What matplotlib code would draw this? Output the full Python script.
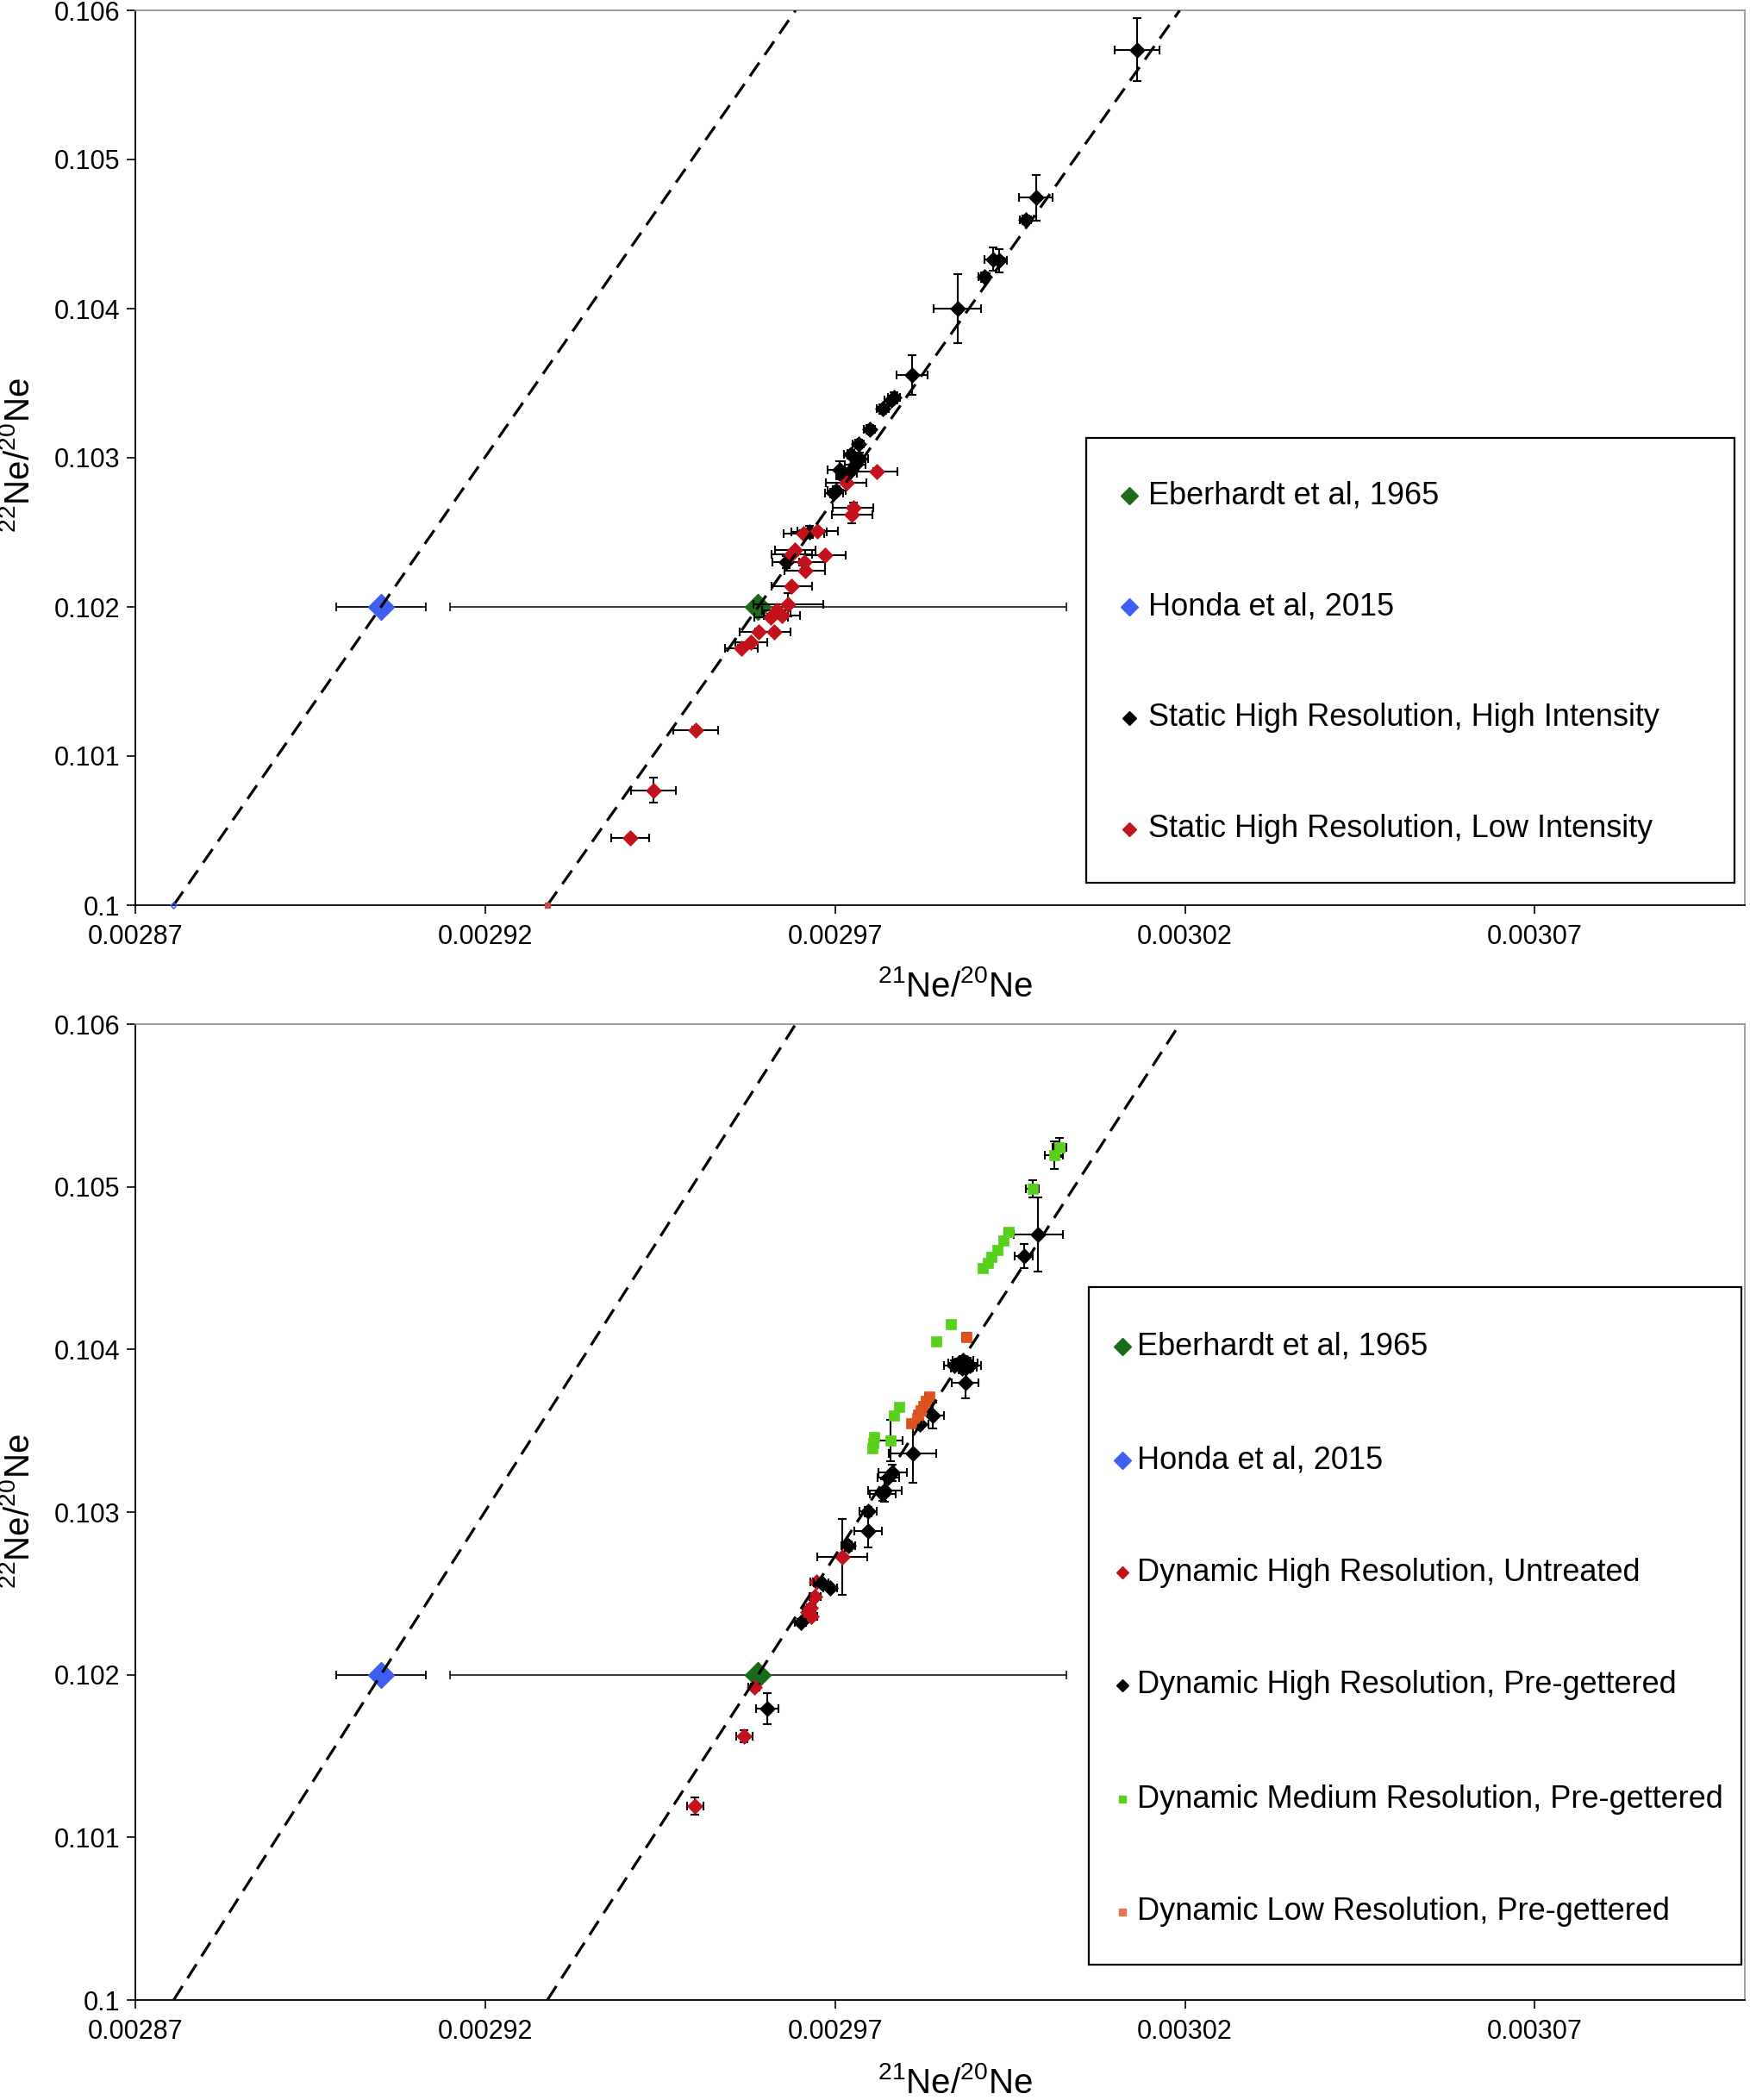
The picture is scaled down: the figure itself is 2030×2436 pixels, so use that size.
import matplotlib
matplotlib.use('Agg')
import matplotlib.pyplot as plt
from matplotlib.patches import Rectangle
import numpy as np

plt.rcParams['font.family'] = ['Liberation Sans', 'DejaVu Sans']
plt.rcParams['mathtext.fontset'] = 'custom'
plt.rcParams['mathtext.rm'] = 'Liberation Sans'

# axis ticks
xticks = [0.00287, 0.00292, 0.00297, 0.00302, 0.00307]
xtick_labels = ['0.00287', '0.00292', '0.00297', '0.00302', '0.00307']
yticks = [0.100, 0.101, 0.102, 0.103, 0.104, 0.105, 0.106]
ytick_labels = ['0.1', '0.101', '0.102', '0.103', '0.104', '0.105', '0.106']

# reference values (21Ne/20Ne, 22Ne/20Ne)
eb_x, eb_y, eb_xerr = 0.0029590, 0.102, 4.4e-5
honda_x, honda_y, honda_xerr = 0.0029051, 0.102, 6.4e-6
# slopes of the two dashed fractionation lines
honda_slope = 67.5
eb_slope = 66.4

# ---- top panel: static high resolution ----
shi_x = [0.0030132, 0.0029987, 0.0029972, 0.0029926, 0.0029934, 0.0029913, 0.0029875,
         0.0029810, 0.0029784, 0.0029780, 0.0029768, 0.0029749, 0.0029733, 0.0029723,
         0.0029735, 0.0029729, 0.0029706, 0.0029719, 0.0029712, 0.0029702, 0.0029698,
         0.0029663, 0.0029630]
shi_y = [0.105736, 0.104743, 0.104595, 0.104331, 0.104321, 0.104212, 0.104000,
         0.103555, 0.103407, 0.103388, 0.103327, 0.103189, 0.103094, 0.103023,
         0.102994, 0.102955, 0.102917, 0.102898, 0.102879, 0.102782, 0.102762,
         0.102503, 0.102301]
shi_xerr = [3.2, 2.4, 0.8, 1.2, 1.2, 0.8, 3.4, 2.2, 0.9, 0.9, 0.9, 0.8, 0.8, 1.0,
            1.2, 1.5, 1.7, 1.2, 1.0, 1.3, 1.3, 2.5, 1.9]
shi_yerr = [21, 15.3, 3, 7.7, 7.7, 3, 23, 13.5, 3, 3, 3, 3, 3, 3,
            4, 4, 6, 3, 3, 3, 3, 4, 4]

sli_x = [0.0029760, 0.0029716, 0.0029726, 0.0029724, 0.0029675, 0.0029655, 0.0029643,
         0.0029638, 0.0029686, 0.0029656, 0.0029657, 0.0029638, 0.0029633, 0.0029616,
         0.0029608, 0.0029624, 0.0029591, 0.0029613, 0.0029580, 0.0029566, 0.0029501,
         0.0029440, 0.0029407]
sli_y = [0.102908, 0.102831, 0.102667, 0.102619, 0.102507, 0.102493, 0.102379,
         0.102350, 0.102344, 0.102298, 0.102244, 0.102137, 0.102016, 0.101974,
         0.101932, 0.101940, 0.101834, 0.101830, 0.101762, 0.101724, 0.101175,
         0.100771, 0.100448]
sli_xerr = [2.9, 2.9, 2.9, 2.9, 2.9, 2.9, 2.9, 2.9, 2.9, 2.9, 2.9, 2.9, 5.0, 2.0,
            2.4, 2.6, 2.7, 2.3, 2.3, 2.3, 3.2, 3.2, 2.7]
sli_yerr = [2, 2, 3, 5.8, 2, 2, 2, 2, 2, 2, 2, 2, 7.7, 2,
            2, 2, 2, 2, 2, 2, 2, 8.5, 2]

# ---- bottom panel: dynamic ----
dun_x = [0.0029710, 0.0029673, 0.0029671, 0.0029664, 0.0029661, 0.0029666, 0.0029584,
         0.0029570, 0.0029500]
dun_y = [0.102726, 0.102572, 0.102480, 0.102412, 0.102386, 0.102360, 0.101926,
         0.101622, 0.101192]
dun_xerr = [3.6, 0.8, 0.8, 0.8, 0.8, 0.8, 0.8, 1.15, 1.15]
dun_yerr = [23.3, 2, 2, 2, 2, 2, 2, 3.5, 5.3]

dpg_x = [0.0029990, 0.0029970, 0.0029870, 0.0029877, 0.0029883, 0.0029889, 0.0029893,
         0.0029881, 0.0029887, 0.0029886, 0.0029839, 0.0029821, 0.0029811, 0.0029782,
         0.0029776, 0.0029771, 0.0029768, 0.0029747, 0.0029747, 0.0029719, 0.0029680,
         0.0029693, 0.0029651, 0.0029603]
dpg_y = [0.104707, 0.104574, 0.103901, 0.103915, 0.103932, 0.103918, 0.103901,
         0.103883, 0.103888, 0.103795, 0.103594, 0.103543, 0.103363, 0.103243,
         0.103214, 0.103134, 0.103111, 0.103004, 0.102881, 0.102792, 0.102567,
         0.102532, 0.102321, 0.101793]
dpg_xerr = [3.5, 1.3, 1.5, 1.5, 1.5, 1.5, 1.5, 1.5, 1.5, 1.9, 1.6, 1.2, 3.4, 2.0,
            1.5, 2.4, 1.8, 1.2, 2.0, 1.0, 1.0, 1.0, 0.8, 1.6]
dpg_yerr = [23, 7.3, 3, 3, 3, 3, 3, 3, 3, 9.5, 7.8, 3, 18.5, 5,
            3, 7, 4, 3, 10, 3, 2, 2, 2, 9.5]

dmr_x = [0.0030021, 0.0030013, 0.0029982, 0.0029948, 0.0029941, 0.0029932, 0.0029923,
         0.0029918, 0.0029911, 0.0029866, 0.0029845, 0.0029791, 0.0029784, 0.0029779,
         0.0029756, 0.0029754, 0.0029753]
dmr_y = [0.105240, 0.105193, 0.104988, 0.104723, 0.104670, 0.104613, 0.104569,
         0.104533, 0.104499, 0.104156, 0.104048, 0.103649, 0.103593, 0.103440,
         0.103459, 0.103424, 0.103393]
dmr_xerr = [1.0, 1.3, 0.95, 0.6, 0.5, 0.5, 0.5, 0.5, 0.5, 0.5, 0.6, 0.5, 0.5, 1.77,
            0.5, 0.5, 0.5]
dmr_yerr = [5.8, 8.5, 5.5, 1.5, 1.5, 1.5, 1.5, 1.5, 1.5, 1.5, 2, 1.5, 1.5, 12.7,
            1.5, 1.5, 1.5]

dlr_x = [0.0029888, 0.0029834, 0.0029830, 0.0029826, 0.0029822, 0.0029819, 0.0029817,
         0.0029809]
dlr_y = [0.104077, 0.103712, 0.103683, 0.103654, 0.103627, 0.103601, 0.103580, 0.103548]
dlr_xerr = [0.6, 0.5, 0.5, 0.5, 0.5, 0.5, 0.5, 0.5]
dlr_yerr = [2.5, 1.5, 1.5, 1.5, 1.5, 1.5, 1.5, 1.5]

GREEN = '#1a6b1a'
BLUE = '#3f5ff2'
BLACK = '#000000'
RED = '#c4121c'
LGREEN = '#58d11d'
ORANGE = '#de521e'

fig = plt.figure(figsize=(20.31, 24.36), dpi=100)
ax1 = fig.add_axes([157 / 2031, 1 - 1050 / 2436, 1867 / 2031, 1038 / 2436])
ax2 = fig.add_axes([157 / 2031, 1 - 2320 / 2436, 1867 / 2031, 1132 / 2436])


def series(ax, x, y, xe, ye, color, marker, ms, z):
    x = np.array(x); y = np.array(y)
    ax.errorbar(x, y, xerr=np.array(xe) * 1e-6, yerr=np.array(ye) * 1e-5, fmt='none',
                ecolor='black', elinewidth=1.5, capsize=3.8, capthick=1.5, zorder=z)
    ax.plot(x, y, ls='none', marker=marker, ms=ms, color=color, mec=color, mew=0.5,
            zorder=z + 0.1)


def setup(ax):
    ax.set_xlim(0.00287, 0.0031)
    ax.set_ylim(0.1, 0.106)
    ax.set_xticks(xticks)
    ax.set_xticklabels(xtick_labels)
    ax.set_yticks(yticks)
    ax.set_yticklabels(ytick_labels)
    ax.tick_params(direction='out', length=7, width=1.2, labelsize=22, colors='black')
    ax.tick_params(axis='x', pad=9)
    ax.tick_params(axis='y', pad=6)
    for s in ['left', 'bottom']:
        ax.spines[s].set_color('black')
        ax.spines[s].set_linewidth(1.3)
    for s in ['top', 'right']:
        ax.spines[s].set_color('#8a9a9a')
        ax.spines[s].set_linewidth(1.3)
    ax.set_xlabel(r'$\mathregular{^{21}Ne/^{20}Ne}$', fontsize=29)
    ax.set_ylabel(r'$\mathregular{^{22}Ne/^{20}Ne}$', fontsize=29)
    ax.xaxis.label.set_va('center')
    ax.yaxis.label.set_va('center')


def frac_lines(ax):
    ys = np.array([0.1, 0.106])
    out = []
    for x0, y0, k in [(honda_x, honda_y, honda_slope), (eb_x, eb_y, eb_slope)]:
        xs = x0 + (ys - y0) / k
        ax.plot(xs, ys, color='black', lw=2.3, ls=(0, (6.0, 3.4)), zorder=20)
        out.append((xs, ys))
    return out


def refs(ax):
    ax.errorbar([eb_x], [eb_y], xerr=[eb_xerr], fmt='none', ecolor='black',
                elinewidth=1.1, capsize=3.6, capthick=1.1, zorder=3)
    ax.plot([eb_x], [eb_y], ls='none', marker='D', ms=15, color=GREEN, zorder=3.1)
    ax.errorbar([honda_x], [honda_y], xerr=[honda_xerr], fmt='none', ecolor='black',
                elinewidth=1.3, capsize=3.6, capthick=1.3, zorder=3)
    ax.plot([honda_x], [honda_y], ls='none', marker='D', ms=15, color=BLUE, zorder=3.1)


def legend_box(ax, box, entries, ys, mx, tx):
    x0, y0, x1, y1 = box
    ax.add_patch(Rectangle((x0, y0), x1 - x0, y1 - y0, transform=ax.transAxes,
                           facecolor='white', edgecolor='black', lw=1.6, zorder=30))
    for (label, color, marker, ms), yy in zip(entries, ys):
        ax.plot([mx], [yy], transform=ax.transAxes, ls='none', marker=marker, ms=ms,
                color=color, clip_on=False, zorder=31)
        ax.text(tx, yy, label, transform=ax.transAxes, fontsize=26, va='center',
                ha='left', zorder=31)


# top panel
setup(ax1)
refs(ax1)
series(ax1, shi_x, shi_y, shi_xerr, shi_yerr, BLACK, 'D', 9.2, 5)
series(ax1, sli_x, sli_y, sli_xerr, sli_yerr, RED, 'D', 9.2, 6)
lines = frac_lines(ax1)
ax1.plot(lines[0][0][:1], lines[0][1][:1], ls='none', marker='D', ms=3.5,
         mfc='none', mec=BLUE, mew=1.2, zorder=21, clip_on=False)
ax1.plot(lines[1][0][:1], lines[1][1][:1], ls='none', marker='s', ms=4,
         color='#c0504d', zorder=21, clip_on=False)
legend_box(ax1, (0.5908, 0.025, 0.9936, 0.522),
           [('Eberhardt et al, 1965', GREEN, 'D', 10.5),
            ('Honda et al, 2015', BLUE, 'D', 10.5),
            ('Static High Resolution, High Intensity', BLACK, 'D', 8),
            ('Static High Resolution, Low Intensity', RED, 'D', 8)],
           [0.4576, 0.3333, 0.2091, 0.0848], 0.6176, 0.6294)
ax1.xaxis.set_label_coords(0.5094, -0.0915)
ax1.yaxis.set_label_coords(-0.0718, 0.503)

# bottom panel
setup(ax2)
refs(ax2)
series(ax2, dun_x, dun_y, dun_xerr, dun_yerr, RED, 'D', 8.8, 5)
series(ax2, dpg_x, dpg_y, dpg_xerr, dpg_yerr, BLACK, 'D', 8.8, 6)
series(ax2, dmr_x, dmr_y, dmr_xerr, dmr_yerr, LGREEN, 's', 8.5, 7)
series(ax2, dlr_x, dlr_y, dlr_xerr, dlr_yerr, ORANGE, 's', 8.5, 8)
frac_lines(ax2)
legend_box(ax2, (0.5924, 0.0362, 0.9979, 0.7306),
           [('Eberhardt et al, 1965', GREEN, 'D', 10),
            ('Honda et al, 2015', BLUE, 'D', 10),
            ('Dynamic High Resolution, Untreated', RED, 'D', 7.5),
            ('Dynamic High Resolution, Pre-gettered', BLACK, 'D', 7.5),
            ('Dynamic Medium Resolution, Pre-gettered', LGREEN, 's', 6),
            ('Dynamic Low Resolution, Pre-gettered', '#e87457', 's', 6)],
           [0.6698, 0.5531, 0.4378, 0.3225, 0.2058, 0.0905], 0.6133, 0.6224)
ax2.xaxis.set_label_coords(0.5094, -0.085)
ax2.yaxis.set_label_coords(-0.0718, 0.5009)

fig.savefig('out.png', dpi=100, facecolor='white')
